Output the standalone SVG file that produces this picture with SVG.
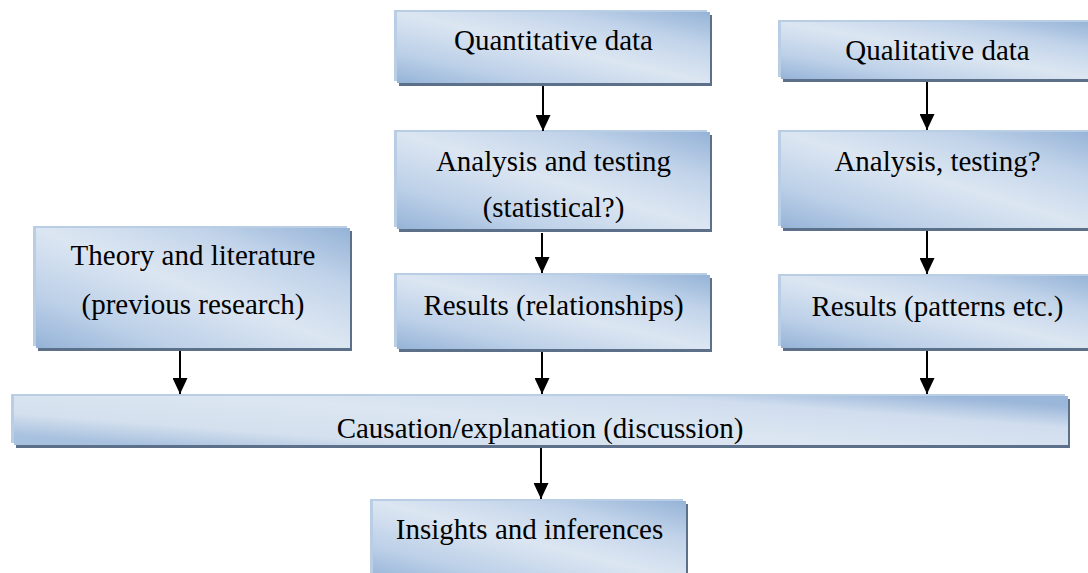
<svg xmlns="http://www.w3.org/2000/svg" width="1088" height="573" viewBox="0 0 1088 573">
<style>
.frame{fill:#b9cde5}
.shadow{fill:#5d7089}
.face{fill:url(#grad)}
.t{font-family:"Liberation Serif","Times New Roman",serif;font-size:29px;fill:#000;text-anchor:middle}
.arrow{stroke:#000;stroke-width:2;fill:none;marker-end:url(#head)}
</style>
<defs>
<linearGradient id="grad" x1="0" y1="1" x2="1" y2="0">
<stop offset="0" stop-color="#95b3d7"/>
<stop offset="0.22" stop-color="#bcd0e8"/>
<stop offset="0.5" stop-color="#dce6f2"/>
<stop offset="0.75" stop-color="#c2d4ea"/>
<stop offset="1" stop-color="#95b3d7"/>
</linearGradient>
<linearGradient id="gradWide" x1="0" y1="0.8" x2="1" y2="0.2">
<stop offset="0" stop-color="#a8c1df"/>
<stop offset="0.2" stop-color="#d4e0ee"/>
<stop offset="0.5" stop-color="#dce6f2"/>
<stop offset="0.8" stop-color="#d0ddee"/>
<stop offset="1" stop-color="#9ab6d9"/>
</linearGradient>
<marker id="head" markerUnits="userSpaceOnUse" markerWidth="16" markerHeight="15" viewBox="0 0 16 15" refX="16" refY="7.5" orient="auto">
<path d="M0,0 L16,7.5 L0,15 z" fill="#000"/>
</marker>
</defs>

<g id="quantitative-data">
<rect class="frame" x="394" y="10" width="313" height="71"/>
<rect class="shadow" x="399" y="15" width="313" height="71"/>
<rect class="face" x="397" y="12" width="313" height="71"/>
<text class="t" x="553.5" y="50">Quantitative data</text>
</g>

<g id="qualitative-data">
<rect class="frame" x="778" y="20" width="313" height="57"/>
<rect class="shadow" x="783" y="25" width="313" height="57"/>
<rect class="face" x="781" y="22" width="313" height="57"/>
<text class="t" x="937.5" y="60">Qualitative data</text>
</g>

<g id="analysis-testing-quant">
<rect class="frame" x="394" y="130" width="313" height="97"/>
<rect class="shadow" x="399" y="135" width="313" height="97"/>
<rect class="face" x="397" y="132" width="313" height="97"/>
<text class="t" x="553.5" y="171">Analysis and testing</text>
<text class="t" x="553.5" y="217">(statistical?)</text>
</g>

<g id="analysis-testing-qual">
<rect class="frame" x="778" y="130" width="313" height="96"/>
<rect class="shadow" x="783" y="135" width="313" height="96"/>
<rect class="face" x="781" y="132" width="313" height="96"/>
<text class="t" x="937.5" y="171">Analysis, testing?</text>
</g>

<g id="theory-literature">
<rect class="frame" x="33" y="226" width="314" height="120"/>
<rect class="shadow" x="38" y="231" width="314" height="120"/>
<rect class="face" x="36" y="228" width="314" height="120"/>
<text class="t" x="193" y="265">Theory and literature</text>
<text class="t" x="193" y="314">(previous research)</text>
</g>

<g id="results-relationships">
<rect class="frame" x="394" y="273" width="313" height="74"/>
<rect class="shadow" x="399" y="278" width="313" height="74"/>
<rect class="face" x="397" y="275" width="313" height="74"/>
<text class="t" x="553.5" y="315">Results (relationships)</text>
</g>

<g id="results-patterns">
<rect class="frame" x="778" y="274" width="313" height="72"/>
<rect class="shadow" x="783" y="279" width="313" height="72"/>
<rect class="face" x="781" y="276" width="313" height="72"/>
<text class="t" x="937.5" y="316">Results (patterns etc.)</text>
</g>

<g id="causation-explanation">
<rect class="frame" x="11" y="394" width="1054" height="49"/>
<rect class="shadow" x="16" y="399" width="1054" height="49"/>
<rect x="14" y="396" width="1054" height="49" fill="url(#gradWide)"/>
<text class="t" x="540" y="438">Causation/explanation (discussion)</text>
</g>

<g id="insights-inferences">
<rect class="frame" x="370" y="499" width="313" height="80"/>
<rect class="shadow" x="375" y="504" width="313" height="80"/>
<rect class="face" x="373" y="501" width="313" height="80"/>
<text class="t" x="529.5" y="539">Insights and inferences</text>
</g>

<g id="connectors">
<line class="arrow" x1="543" y1="86" x2="543" y2="131"/>
<line class="arrow" x1="927" y1="82" x2="927" y2="130"/>
<line class="arrow" x1="542" y1="233" x2="542" y2="273"/>
<line class="arrow" x1="927" y1="231" x2="927" y2="274"/>
<line class="arrow" x1="180" y1="351" x2="180" y2="394"/>
<line class="arrow" x1="542" y1="352" x2="542" y2="394"/>
<line class="arrow" x1="927" y1="351" x2="927" y2="394"/>
<line class="arrow" x1="541" y1="448" x2="541" y2="499"/>
</g>
</svg>
